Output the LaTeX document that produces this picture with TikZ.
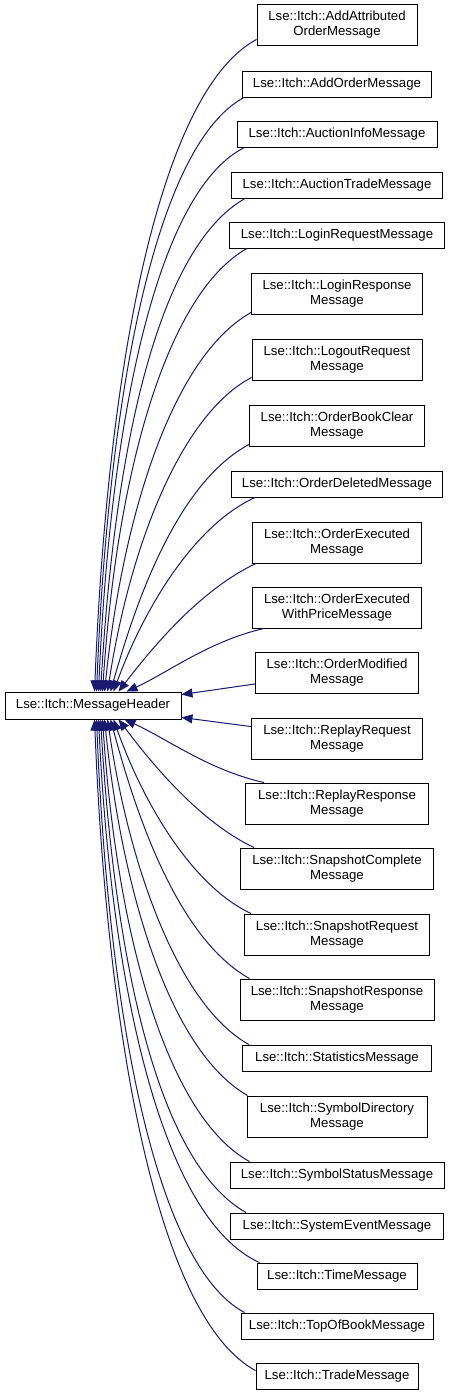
\documentclass[tikz,border=0pt]{standalone}
\usepackage{fontspec}
\setmainfont{Liberation Sans}
\usetikzlibrary{calc,arrows.meta}
\definecolor{mblue}{HTML}{191970}
\newcommand{\inhedge}[6]{\draw[inh] let \p1=(#1), \p2=(#2) in (\p1) .. controls ({\x1+#3*(\x2-\x1)},{\y1+#4*(\y2-\y1)}) and ({\x2+#5*(\x1-\x2)},{\y2+#6*(\y1-\y2)}) .. (\p2);}
\begin{document}
\begin{tikzpicture}[x=1pt,y=-1pt,
  cls/.style={draw=black, line width=0.9pt, fill=white, inner sep=0pt, align=center,
    font=\fontsize{13.2}{15}\selectfont, minimum height=26pt},
  two/.style={minimum height=41pt},
  inh/.style={draw=mblue, line width=1pt, -{Triangle[length=11pt,width=9pt]}}]
\useasboundingbox (0,0) rectangle (451,1397);
\node[cls, minimum width=176pt, minimum height=27pt] (mh) at (93,705.5) {Lse::Itch::MessageHeader};
\node[cls,two,minimum width=160pt] (c1) at (337,24.5) {Lse::Itch::AddAttributed\\OrderMessage};
\node[cls,minimum width=189pt] (c2) at (337,84) {Lse::Itch::AddOrderMessage};
\node[cls,minimum width=200pt] (c3) at (337,134) {Lse::Itch::AuctionInfoMessage};
\node[cls,minimum width=211pt] (c4) at (337,185) {Lse::Itch::AuctionTradeMessage};
\node[cls,minimum width=215pt] (c5) at (337,235) {Lse::Itch::LoginRequestMessage};
\node[cls,two,minimum width=171pt] (c6) at (337,293.5) {Lse::Itch::LoginResponse\\Message};
\node[cls,two,minimum width=170pt] (c7) at (337,359.5) {Lse::Itch::LogoutRequest\\Message};
\node[cls,two,minimum width=175pt] (c8) at (337,425.5) {Lse::Itch::OrderBookClear\\Message};
\node[cls,minimum width=211pt] (c9) at (337,484) {Lse::Itch::OrderDeletedMessage};
\node[cls,two,minimum width=169pt] (c10) at (337,542.5) {Lse::Itch::OrderExecuted\\Message};
\node[cls,two,minimum width=169pt] (c11) at (337,607.5) {Lse::Itch::OrderExecuted\\WithPriceMessage};
\node[cls,two,minimum width=163pt] (c12) at (337,673) {Lse::Itch::OrderModified\\Message};
\node[cls,two,minimum width=171pt] (c13) at (337,738.5) {Lse::Itch::ReplayRequest\\Message};
\node[cls,two,minimum width=183pt] (c14) at (337,803.5) {Lse::Itch::ReplayResponse\\Message};
\node[cls,two,minimum width=193pt] (c15) at (337,868.5) {Lse::Itch::SnapshotComplete\\Message};
\node[cls,two,minimum width=185pt] (c16) at (337,934.5) {Lse::Itch::SnapshotRequest\\Message};
\node[cls,two,minimum width=194pt] (c17) at (337,999.5) {Lse::Itch::SnapshotResponse\\Message};
\node[cls,minimum width=189pt] (c18) at (337,1058) {Lse::Itch::StatisticsMessage};
\node[cls,two,minimum width=180pt] (c19) at (337,1116.5) {Lse::Itch::SymbolDirectory\\Message};
\node[cls,minimum width=214pt] (c20) at (337,1175) {Lse::Itch::SymbolStatusMessage};
\node[cls,minimum width=213pt] (c21) at (337,1226) {Lse::Itch::SystemEventMessage};
\node[cls,minimum width=160pt] (c22) at (337,1276) {Lse::Itch::TimeMessage};
\node[cls,minimum width=192pt] (c23) at (337,1326) {Lse::Itch::TopOfBookMessage};
\node[cls,minimum width=162pt] (c24) at (337,1376) {Lse::Itch::TradeMessage};
% upper edges
\inhedge{$(c1.south west)+(0,-6)$}{$(mh.north west)+(90,0)$}{0.6}{0.08}{0.08}{0.5}
\inhedge{$(c2.south west)+(2,0)$}{$(mh.north west)+(92,0)$}{0.6}{0.08}{0.08}{0.5}
\inhedge{$(c3.south west)+(8,0)$}{$(mh.north west)+(94,0)$}{0.6}{0.08}{0.08}{0.5}
\inhedge{$(c4.south west)+(14,0)$}{$(mh.north west)+(96,0)$}{0.6}{0.1}{0.1}{0.5}
\inhedge{$(c5.south west)+(18,0)$}{$(mh.north west)+(98,0)$}{0.55}{0.1}{0.1}{0.5}
\inhedge{$(c6.south west)+(0,-2)$}{$(mh.north west)+(100,0)$}{0.55}{0.12}{0.12}{0.45}
\inhedge{$(c7.south west)+(0,-3)$}{$(mh.north west)+(103,0)$}{0.5}{0.12}{0.15}{0.45}
\inhedge{$(c8.south west)+(0,-2)$}{$(mh.north west)+(106,0)$}{0.5}{0.15}{0.2}{0.4}
\inhedge{$(c9.south west)+(24,0)$}{$(mh.north west)+(109,0)$}{0.45}{0.15}{0.2}{0.4}
\inhedge{$(c10.south west)+(4,0)$}{$(mh.north west)+(114,0)$}{0.4}{0.2}{0.25}{0.35}
\inhedge{$(c11.south west)+(12,0)$}{$(mh.north west)+(122,0)$}{0.4}{0.2}{0.3}{0.3}
% side edges
\draw[inh] ($(c12.south west)+(0,-10)$) -- ($(mh.north east)+(0,3)$);
\draw[inh] ($(c13.north west)+(0,9)$) -- ($(mh.south east)+(0,-2)$);
% lower edges
\inhedge{$(c14.north west)+(19,0)$}{$(mh.south west)+(120,0)$}{0.4}{0.2}{0.3}{0.3}
\inhedge{$(c15.north west)+(14,0)$}{$(mh.south west)+(114,0)$}{0.4}{0.2}{0.25}{0.35}
\inhedge{$(c16.north west)+(7,0)$}{$(mh.south west)+(109,0)$}{0.45}{0.15}{0.2}{0.4}
\inhedge{$(c17.north west)+(10,0)$}{$(mh.south west)+(106,0)$}{0.5}{0.15}{0.2}{0.4}
\inhedge{$(c18.north west)+(7,0)$}{$(mh.south west)+(103,0)$}{0.5}{0.12}{0.15}{0.45}
\inhedge{$(c19.north west)+(1,0)$}{$(mh.south west)+(100,0)$}{0.55}{0.12}{0.12}{0.45}
\inhedge{$(c20.north west)+(20,0)$}{$(mh.south west)+(98,0)$}{0.55}{0.1}{0.1}{0.5}
\inhedge{$(c21.north west)+(16,0)$}{$(mh.south west)+(96,0)$}{0.6}{0.1}{0.1}{0.5}
\inhedge{$(c22.north west)+(3,0)$}{$(mh.south west)+(94,0)$}{0.6}{0.08}{0.08}{0.5}
\inhedge{$(c23.north west)+(4,0)$}{$(mh.south west)+(92,0)$}{0.6}{0.08}{0.08}{0.5}
\inhedge{$(c24.north west)+(0,8)$}{$(mh.south west)+(90,0)$}{0.6}{0.08}{0.08}{0.5}
\end{tikzpicture}
\end{document}
